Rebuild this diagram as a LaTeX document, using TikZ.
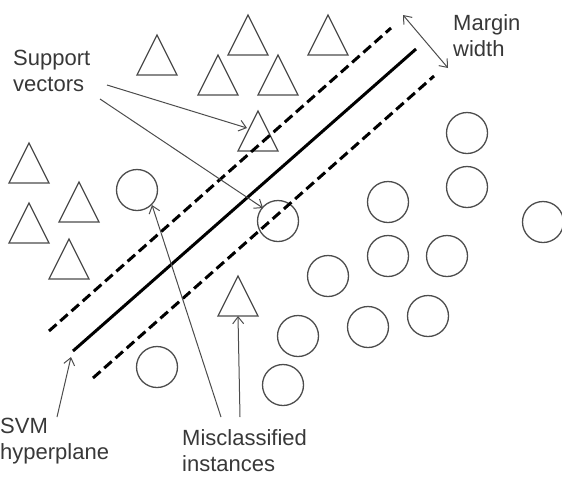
\documentclass[tikz,border=0pt]{standalone}
\usepackage{fontspec}
\setmainfont{Liberation Sans}
\usetikzlibrary{arrows.meta}
\def\tri(#1,#2){\draw[shapeline] (#1-20,#2) -- (#1,#2-40) -- (#1+20,#2) -- cycle;}
\def\ring(#1,#2){\draw[shapeline] (#1,#2) circle (20.5pt);}

\begin{document}
\begin{tikzpicture}[x=1pt,y=-1pt,
	shapeline/.style={line width=1.3pt, draw=black!70},
	pointer/.style={line width=1pt, draw=black!70, -{Straight Barb[length=7pt,width=11pt]}},
	lbl/.style={font=\fontsize{22}{26}\selectfont, text=black!78, align=left, inner sep=0pt, anchor=base west},
	plane/.style={line width=3pt, draw=black}]
			%%%%% START %%%%%
			
			\useasboundingbox (0,0) rectangle (562,488);
			
			% triangles
			\tri(157,75)
			\tri(248,55)
			\tri(218,95)
			\tri(278,95)
			\tri(328,55)
			\tri(258,151)
			\tri(29,183)
			\tri(79,222)
			\tri(29,243)
			\tri(69,279)
			\tri(238,316)
			
			% circles
			\ring(137,190)
			\ring(278,221)
			\ring(467,133)
			\ring(467,187)
			\ring(388,202)
			\ring(543,222)
			\ring(388,256)
			\ring(447,256)
			\ring(328,276)
			\ring(298,336)
			\ring(368,327)
			\ring(428,316)
			\ring(283,385)
			\ring(157,367)
			
			% hyperplane and margins
			\draw[plane] (73,351) -- (416,49);
			\draw[plane, dash pattern=on 10pt off 5pt] (49,331) -- (391,28);
			\draw[plane, dash pattern=on 10pt off 5pt] (93,378) -- (434,76);
			
			% labels (base = last line)
			\node[lbl] (support) at (13,91) {Support\\vectors};
			\node[lbl] (margin) at (453,56) {Margin\\width};
			\node[lbl] (svm) at (0,459) {SVM\\hyperplane};
			\node[lbl] (miscl) at (182,471) {Misclassified\\instances};
			
			\coordinate (sv-a) at (107,85);
			\coordinate (sv-b) at (100,99);
			\coordinate (sv-tri) at (247,128);
			\coordinate (sv-circ) at (263,208);
			\coordinate (mw-a) at (403,15);
			\coordinate (mw-b) at (448,68);
			\coordinate (hp-a) at (57,417);
			\coordinate (hp-b) at (71,357);
			\coordinate (mc-a) at (221,417);
			\coordinate (mc-b) at (240,417);
			\coordinate (mc-circ) at (152,205);
			\coordinate (mc-tri) at (238,316);
			
			\draw[pointer] (sv-a) -- (sv-tri);
			\draw[pointer] (sv-b) -- (sv-circ);
			\draw[pointer, {Straight Barb[length=7pt,width=11pt]}-{Straight Barb[length=7pt,width=11pt]}] (mw-a) -- (mw-b);
			\draw[pointer] (hp-a) -- (hp-b);
			\draw[pointer] (mc-a) -- (mc-circ);
			\draw[pointer] (mc-b) -- (mc-tri);
			
			%%%%% END %%%%%
\end{tikzpicture}
\end{document}
